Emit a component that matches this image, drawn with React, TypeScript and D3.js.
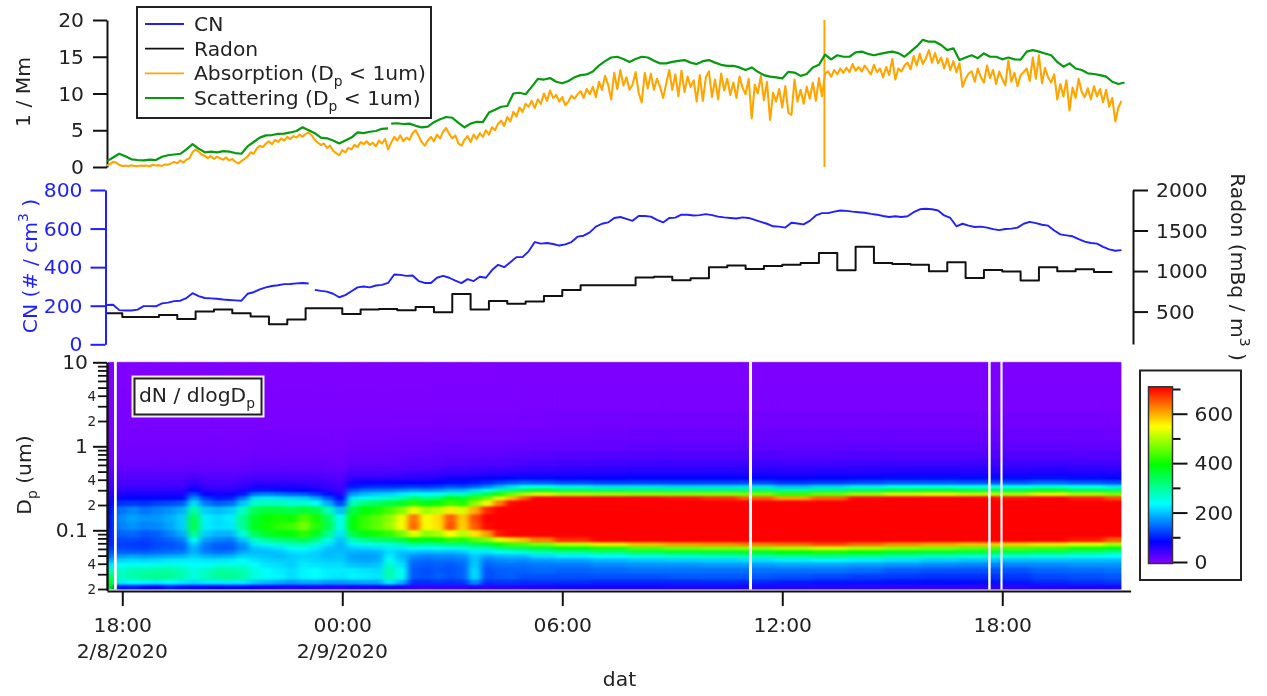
import React, { useEffect, useRef } from "react";
import * as d3 from "d3";

// time base: every series is sampled in minutes after this moment
const START = new Date(2020, 1, 8, 17, 35);
const END = new Date(2020, 1, 9, 21, 30);
const timeTicks = [new Date(2020, 1, 8, 18), new Date(2020, 1, 9, 0), new Date(2020, 1, 9, 6), new Date(2020, 1, 9, 12), new Date(2020, 1, 9, 18)];
const dateLabels = ["2/8/2020", "2/9/2020", "", "", ""];

// 5 minute samples from 17:35
const absorption = [
  0.2, 0.4, 0.7, 0.6, 0.3, 0.1, 0.2, 0.1, 0.25, 0.15, 0.1, 0.2, 0.15, 0.2, 0.1, 0.3, 0.2, 0.25, 0.15, 0.35, 0.3,
  0.5, 0.7, 0.5, 0.9, 0.6, 1.0, 1.2, 2.0, 2.4, 2.1, 1.7, 1.5,
  1.2, 1.5, 1.1, 1.4, 1.2, 1.0, 1.3, 0.9, 1.1, 0.7, 0.5, 0.8,
  1.1, 1.4, 2.0, 1.8, 2.5, 2.9, 2.7, 3.2, 3.5, 3.1, 3.7, 3.4,
  3.9, 3.6, 4.1, 3.8, 4.2, 4.0, 4.4, 4.1, 4.5, 4.7, 4.3, 3.7,
  3.3, 3.0, 3.2, 2.6, 2.9, 2.2, 1.9, 1.6, 2.3, 2.0, 2.6, 2.4,
  3.0, 2.7, 3.4, 3.1, 3.5, 3.0, 3.3, 2.8, 3.6, 3.2, 3.8, 2.4,
  3.3, 4.1, 3.6, 4.3, 3.5, 4.0, 3.7, 4.6, 5.0, 4.2, 3.4, 2.9,
  3.6, 4.1, 3.5, 4.4, 3.9, 4.8, 5.3, 4.5, 3.9, 4.3, 3.2, 2.9,
  3.7, 4.2, 3.4, 4.4, 3.8, 4.6, 4.1, 5.0, 4.4, 5.4, 5.0, 5.9,
  6.3, 5.6, 6.8, 6.2, 7.5, 6.9, 8.1, 7.5, 8.6, 8.2, 9.0, 8.0,
  9.2, 8.6, 10.0, 9.0, 10.4, 9.4, 9.8, 8.9, 9.5, 8.4, 8.9, 9.7,
  9.3, 9.9, 10.3, 9.4, 10.6, 9.9, 10.9, 9.5, 11.6, 10.5, 12.4, 11.2,
  9.2, 12.8, 10.6, 13.2, 11.1, 12.2, 10.5,
  11.2, 12.9, 10.1, 8.8, 12.8, 10.7, 12.7, 10.5, 12.0, 10.9, 9.4, 11.3,
  13.2, 10.5, 12.6, 9.6, 13.1, 10.2, 12.3, 10.9, 11.8, 8.9, 12.5, 9.0,
  12.2, 13.0, 9.5, 11.9, 9.2, 12.7, 10.4, 12.0, 9.8, 11.5, 9.4, 12.3,
  10.8, 9.9, 12.0, 6.6, 11.2, 10.0, 12.4, 9.1, 11.6, 6.4, 10.1, 8.9,
  10.6, 8.1, 11.0, 7.4, 7.1, 11.9, 8.9, 10.5, 8.6, 10.9, 9.3, 11.5,
  9.0, 12.1, 9.6,
  12.7, 13.0, 12.3, 13.2, 12.6, 13.4, 12.8, 13.5, 12.9, 14.0, 13.1, 13.6,
  13.0, 13.8, 13.2, 12.6, 13.9, 12.9, 13.4, 12.2, 13.6, 12.5, 14.7, 11.9,
  13.4, 13.0, 13.8, 14.2, 13.3, 15.1, 13.8, 15.4, 14.0, 14.8, 15.9, 14.2,
  15.5, 14.1, 14.9, 13.4, 14.8, 13.2, 14.4, 12.9, 14.1, 10.9, 12.0, 12.7,
  13.0, 11.6, 13.4, 12.2, 11.5, 13.8, 12.1, 13.2, 11.3, 13.0, 12.0, 11.1,
  14.5, 11.6, 12.8, 11.0, 12.5, 12.9, 13.4, 11.7, 14.9, 12.0, 15.2, 11.4,
  13.5, 12.2, 11.5, 12.6, 9.2, 11.3, 9.6, 11.8, 7.7, 10.8, 9.4, 12.0,
  10.2, 9.5, 10.7, 9.2, 11.0, 9.6, 10.6, 8.8, 10.5, 8.2, 9.4, 6.2, 8.1, 9.0,
];
const absorptionSpikeMinute = 1174;
const absorptionSpikeRange = [0, 20];

// 10 minute samples, one short dropout at about 01:18
const scatteringA = [
  0.8, 1.3, 1.8, 1.45, 1.05, 0.95, 0.9, 1.0, 0.95, 1.4, 1.6, 1.7, 1.8, 2.4, 3.1, 2.5, 2.0, 2.1, 2.0, 2.15, 2.1, 1.9, 1.8,
  2.8, 3.4, 4.0, 4.3, 4.35, 4.5, 4.55, 4.7, 4.9, 5.4, 5.0, 4.6, 4.0, 3.9, 3.6, 3.2, 3.6, 4.0, 4.7, 4.6, 4.8, 4.9, 5.2, 5.25,
];
const scatteringB = [
  5.9, 5.95, 5.85, 5.9, 5.6, 5.4, 5.5, 6.1, 6.5, 6.8, 6.7, 6.0, 5.4, 5.9, 6.15, 6.1, 7.4, 7.8, 8.2, 8.3, 10.0, 10.1, 9.9,
  10.9, 12.0, 11.9, 12.1, 11.6, 11.4, 11.7, 12.2, 12.5, 12.6, 13.0, 13.8, 14.4, 14.9, 15.0, 14.7, 14.3, 14.7,
  15.0, 14.9, 14.45, 14.1, 14.1, 14.3, 14.45, 14.55, 14.2, 14.0, 14.4, 14.55, 14.2, 13.9, 13.75, 13.75, 13.55, 13.2, 13.55,
  12.95, 12.5, 12.3, 12.2, 12.05, 12.95, 12.85, 12.4, 12.65, 13.55, 13.9, 15.3, 14.65, 15.2, 15.0, 15.0, 15.6, 15.7, 15.4,
  15.2, 15.4, 15.55, 15.7, 15.5, 15.0, 15.7, 16.4, 17.3, 17.05, 17.05, 16.6, 15.9, 16.15, 14.55, 14.9, 15.2, 14.8, 15.45,
  15.0, 15.0, 14.65, 14.9, 14.65, 14.6, 15.7, 15.9, 15.7, 15.45, 15.2, 14.3, 13.65, 14.1, 13.4, 13.2, 12.75, 12.65, 12.5,
  12.3, 11.6, 11.3, 11.5,
];
const scatteringBStart = 465;

const cnA = [
  204, 205, 177, 175, 175, 180, 198, 198, 197, 212, 216, 224, 226, 240, 265, 250, 240, 238, 236, 232, 230, 228, 226,
  262, 270, 285, 295, 302, 306, 312, 313, 316, 318, 315,
];
const cnB = [
  282, 277, 273, 262, 244, 255, 275, 295, 300, 295, 305, 308, 318, 362, 360, 355, 357, 328, 318, 318, 345, 355, 345, 330,
  317, 338, 328, 350, 345, 385, 412, 400, 425, 452, 452, 482, 530, 522, 525, 520, 512, 518, 530, 558, 563, 580, 610, 625,
  632, 655, 660, 650, 640, 665,
  665, 662, 645, 632, 655, 657, 672, 672, 668, 670, 675, 670, 662, 658, 655, 652, 658, 655, 645, 635, 625, 612, 610, 605,
  630, 626, 622, 640, 668, 680, 680, 688, 694, 692, 688, 685, 682, 676, 672, 665, 660, 664, 660, 664, 685, 700, 703, 700,
  694, 668, 655, 612, 625, 615, 608, 610, 605, 597, 592, 598, 600, 605, 625, 635, 628, 620, 615, 590, 570, 565, 560, 545,
  532, 525, 522, 505, 492, 485, 488,
];
const cnBStart = 340;

// half hourly radon, first value is held from the start of the record to 18:00
const radon = [
  479, 434, 434, 459, 409, 500, 525, 479, 438, 344, 401, 541, 541, 471, 525, 533, 516, 557, 492, 718, 525, 631, 598, 623,
  693, 767, 825, 825, 825, 919, 931, 886, 911, 1046, 1067, 1026, 1063, 1079, 1100, 1223, 1009, 1301, 1100, 1088, 1079,
  997, 1108, 915, 1014, 994, 882, 1046, 997, 1022, 989,
];

// size distribution: column start minutes, diameters (um) from the top, one column of dN/dlogDp per row
const sizeMinutes = [
  0, 12, 32, 52, 72, 92, 112, 132, 152, 172, 192, 212, 232, 252, 272, 292, 312, 332, 352, 372, 392, 412, 432, 452, 472, 492,
  512, 532, 552, 572, 592, 612, 632, 652, 672, 692, 732, 792, 852, 912, 972, 1032, 1092, 1152, 1212, 1272, 1332, 1392, 1452,
  1512, 1572, 1632,
];
const sizeEndMinute = 1660;
const dpBins = [8.0, 3.5, 2.0, 1.35, 1.0, 0.78, 0.63, 0.53, 0.46, 0.42, 0.37, 0.33, 0.3, 0.27, 0.24, 0.215, 0.173, 0.139, 0.112, 0.09, 0.076, 0.068, 0.061, 0.055, 0.049, 0.044, 0.039, 0.033, 0.028, 0.024, 0.021];
const dpTop = 10;
const dpBottom = 0.0193;
const sizeDist = [
  [0, 1, 3, 5, 8, 10, 12, 18, 24, 29, 34, 40, 45, 52, 62, 75, 85, 90, 90, 95, 100, 105, 115, 130, 150, 180, 220, 280, 340, 380, 380],
  [0, 1, 3, 5, 8, 10, 12, 18, 24, 29, 34, 42, 52, 65, 85, 110, 150, 165, 160, 140, 125, 120, 125, 140, 175, 210, 235, 270, 270, 225, 90],
  [0, 1, 3, 5, 8, 10, 12, 18, 24, 29, 34, 42, 52, 65, 85, 115, 165, 180, 170, 145, 125, 118, 122, 140, 180, 215, 245, 285, 290, 235, 100],
  [0, 1, 3, 5, 8, 10, 12, 18, 24, 29, 34, 42, 52, 65, 85, 110, 150, 170, 160, 135, 120, 115, 120, 138, 175, 210, 245, 290, 300, 230, 85],
  [0, 1, 3, 5, 8, 10, 12, 18, 24, 29, 34, 42, 52, 65, 85, 120, 160, 172, 165, 140, 130, 125, 130, 145, 180, 215, 250, 295, 305, 225, 80],
  [0, 1, 3, 5, 8, 10, 12, 18, 24, 29, 34, 42, 52, 65, 85, 125, 170, 185, 180, 160, 140, 130, 135, 150, 185, 220, 255, 295, 300, 235, 100],
  [0, 1, 3, 5, 8, 10, 12, 18, 24, 29, 34, 42, 52, 65, 85, 135, 185, 205, 205, 185, 155, 140, 140, 155, 190, 225, 250, 280, 285, 225, 90],
  [0, 1, 3, 5, 8, 10, 14, 20, 28, 36, 48, 62, 85, 125, 170, 215, 290, 340, 345, 310, 245, 205, 190, 190, 205, 225, 240, 255, 255, 215, 85],
  [0, 1, 3, 5, 8, 10, 12, 18, 24, 30, 36, 46, 58, 80, 115, 155, 205, 225, 225, 205, 175, 155, 150, 160, 190, 220, 240, 270, 280, 225, 85],
  [0, 1, 3, 5, 8, 10, 12, 18, 24, 29, 34, 42, 54, 70, 95, 135, 195, 215, 215, 190, 160, 140, 135, 150, 185, 220, 255, 295, 300, 225, 80],
  [0, 1, 3, 5, 8, 10, 12, 18, 24, 29, 34, 42, 54, 72, 100, 145, 205, 225, 220, 190, 155, 140, 135, 155, 190, 225, 255, 295, 305, 225, 85],
  [0, 1, 3, 5, 8, 10, 13, 19, 26, 32, 40, 50, 64, 95, 150, 200, 270, 305, 300, 260, 200, 170, 165, 185, 210, 235, 255, 285, 290, 225, 85],
  [0, 1, 3, 6, 9, 12, 16, 22, 30, 38, 50, 65, 95, 150, 220, 270, 340, 370, 375, 340, 275, 225, 200, 195, 205, 220, 235, 255, 255, 205, 75],
  [0, 1, 3, 6, 9, 12, 16, 22, 30, 38, 50, 65, 95, 160, 225, 280, 355, 395, 400, 370, 300, 245, 210, 195, 200, 210, 220, 235, 240, 195, 70],
  [0, 1, 3, 6, 9, 12, 16, 22, 30, 38, 50, 65, 90, 150, 220, 275, 355, 405, 420, 385, 320, 265, 220, 200, 195, 205, 215, 225, 230, 185, 65],
  [0, 1, 3, 6, 9, 12, 16, 22, 30, 38, 48, 62, 85, 140, 215, 265, 345, 400, 430, 395, 330, 280, 235, 215, 205, 205, 205, 215, 215, 175, 60],
  [0, 1, 3, 6, 9, 12, 16, 22, 30, 38, 48, 60, 82, 135, 210, 265, 360, 440, 465, 420, 345, 285, 240, 220, 210, 215, 225, 230, 230, 185, 65],
  [0, 1, 3, 6, 9, 12, 16, 22, 28, 36, 44, 55, 72, 115, 185, 240, 345, 405, 415, 375, 310, 260, 225, 210, 205, 210, 220, 235, 235, 185, 60],
  [0, 1, 3, 5, 8, 10, 14, 20, 26, 32, 40, 48, 60, 90, 135, 185, 280, 335, 345, 305, 255, 220, 200, 195, 195, 205, 215, 225, 225, 175, 60],
  [0, 1, 3, 5, 8, 10, 12, 18, 24, 28, 32, 38, 46, 60, 85, 120, 195, 240, 245, 220, 200, 190, 190, 195, 200, 205, 215, 225, 220, 175, 55],
  [0, 1, 3, 7, 11, 15, 20, 28, 38, 50, 70, 95, 130, 175, 225, 280, 350, 385, 390, 350, 280, 230, 205, 190, 180, 185, 200, 225, 230, 180, 65],
  [0, 1, 3, 7, 11, 15, 20, 28, 38, 52, 76, 105, 150, 195, 245, 320, 390, 425, 430, 385, 310, 250, 210, 185, 175, 180, 195, 220, 225, 185, 60],
  [0, 1, 3, 7, 11, 15, 20, 28, 38, 52, 76, 108, 155, 205, 260, 335, 405, 445, 450, 405, 325, 260, 215, 190, 180, 185, 200, 215, 220, 185, 65],
  [0, 1, 3, 7, 11, 15, 20, 28, 38, 52, 76, 108, 155, 210, 270, 350, 435, 480, 485, 425, 335, 265, 225, 215, 225, 245, 265, 285, 285, 225, 70],
  [0, 1, 4, 8, 12, 16, 22, 30, 40, 54, 78, 110, 165, 225, 290, 370, 470, 540, 545, 465, 355, 280, 225, 200, 195, 205, 220, 240, 240, 190, 60],
  [0, 1, 4, 8, 12, 18, 24, 32, 44, 58, 80, 115, 175, 250, 330, 410, 540, 635, 645, 535, 395, 305, 240, 195, 170, 150, 140, 135, 135, 110, 50],
  [0, 1, 4, 8, 12, 18, 24, 32, 44, 58, 80, 112, 170, 240, 310, 380, 490, 545, 545, 480, 385, 300, 235, 190, 160, 145, 135, 130, 130, 110, 45],
  [0, 2, 5, 9, 14, 20, 26, 34, 46, 60, 82, 118, 175, 250, 325, 395, 510, 570, 565, 495, 395, 310, 240, 195, 165, 150, 140, 135, 140, 115, 50],
  [0, 2, 5, 9, 14, 20, 28, 38, 54, 72, 90, 130, 190, 270, 385, 430, 560, 650, 660, 550, 420, 320, 240, 190, 165, 150, 135, 130, 130, 110, 48],
  [0, 2, 5, 9, 14, 20, 28, 38, 52, 68, 88, 125, 190, 270, 365, 410, 525, 580, 575, 505, 410, 320, 250, 200, 170, 155, 145, 140, 140, 115, 50],
  [0, 2, 5, 9, 15, 22, 30, 40, 56, 74, 95, 140, 215, 310, 420, 480, 600, 660, 650, 565, 445, 345, 270, 225, 205, 200, 205, 215, 215, 170, 55],
  [0, 2, 5, 9, 15, 22, 30, 42, 58, 78, 105, 160, 240, 350, 460, 540, 680, 720, 700, 610, 470, 360, 280, 220, 180, 155, 140, 130, 130, 110, 50],
  [1, 2, 5, 9, 15, 22, 30, 42, 60, 82, 118, 190, 285, 410, 530, 630, 750, 800, 780, 690, 530, 400, 310, 240, 190, 165, 150, 140, 135, 115, 55],
  [1, 2, 5, 10, 16, 24, 32, 44, 62, 85, 130, 215, 320, 460, 590, 700, 810, 850, 820, 730, 570, 430, 330, 250, 195, 170, 150, 140, 140, 115, 55],
  [1, 3, 6, 10, 16, 24, 34, 46, 64, 88, 140, 240, 350, 500, 650, 760, 860, 880, 850, 750, 590, 440, 340, 255, 195, 165, 150, 140, 130, 110, 55],
  [1, 3, 6, 11, 17, 26, 36, 48, 64, 86, 135, 245, 370, 530, 710, 820, 880, 900, 870, 790, 630, 470, 360, 280, 215, 175, 155, 145, 130, 110, 60],
  [1, 3, 7, 12, 18, 27, 38, 50, 64, 82, 125, 225, 345, 500, 710, 830, 900, 910, 880, 820, 680, 510, 390, 295, 225, 180, 155, 140, 130, 110, 65],
  [1, 3, 7, 13, 19, 28, 40, 52, 66, 82, 118, 215, 335, 490, 730, 860, 910, 920, 900, 850, 730, 560, 410, 315, 240, 190, 165, 145, 130, 105, 65],
  [1, 3, 8, 14, 21, 30, 42, 54, 68, 84, 120, 215, 330, 480, 710, 870, 920, 930, 910, 865, 760, 590, 440, 340, 255, 200, 170, 150, 130, 105, 65],
  [1, 3, 8, 14, 21, 30, 42, 54, 68, 84, 118, 210, 325, 475, 695, 860, 910, 925, 915, 870, 770, 610, 460, 355, 270, 205, 170, 150, 135, 105, 62],
  [1, 3, 8, 14, 21, 30, 42, 54, 68, 84, 120, 210, 325, 475, 680, 850, 905, 920, 915, 870, 775, 620, 470, 360, 275, 210, 175, 150, 135, 108, 62],
  [1, 3, 8, 14, 21, 30, 42, 54, 68, 84, 122, 215, 330, 465, 650, 820, 900, 920, 915, 875, 780, 630, 480, 370, 285, 215, 175, 150, 135, 105, 60],
  [1, 3, 8, 14, 20, 28, 40, 52, 66, 80, 112, 195, 300, 425, 610, 790, 880, 910, 910, 880, 790, 640, 500, 390, 300, 225, 180, 150, 130, 100, 58],
  [1, 3, 8, 14, 20, 28, 40, 54, 68, 84, 118, 210, 320, 455, 650, 810, 890, 915, 915, 885, 805, 660, 520, 405, 310, 230, 180, 150, 125, 95, 55],
  [1, 3, 8, 14, 21, 30, 42, 54, 68, 86, 125, 225, 340, 490, 700, 850, 900, 920, 915, 880, 790, 640, 500, 390, 300, 225, 175, 145, 120, 95, 52],
  [1, 3, 8, 14, 21, 30, 42, 56, 70, 90, 135, 240, 365, 520, 730, 870, 910, 925, 915, 875, 775, 620, 480, 370, 285, 215, 170, 135, 115, 92, 50],
  [1, 3, 8, 14, 21, 30, 42, 56, 70, 90, 135, 245, 370, 530, 740, 880, 915, 925, 915, 870, 765, 605, 470, 360, 275, 205, 165, 130, 110, 90, 50],
  [1, 3, 8, 14, 21, 30, 42, 54, 68, 88, 130, 235, 355, 510, 720, 870, 910, 920, 905, 860, 750, 590, 450, 350, 265, 200, 160, 130, 110, 90, 48],
  [1, 3, 8, 14, 21, 30, 42, 54, 68, 88, 130, 235, 350, 495, 695, 850, 900, 910, 895, 845, 735, 580, 440, 345, 260, 195, 160, 130, 115, 95, 52],
  [1, 3, 8, 14, 21, 30, 42, 56, 70, 92, 142, 255, 375, 530, 720, 860, 900, 905, 890, 835, 720, 565, 430, 335, 255, 195, 165, 140, 125, 105, 58],
  [1, 3, 8, 14, 20, 28, 40, 54, 68, 88, 132, 235, 350, 495, 690, 840, 890, 900, 875, 815, 690, 530, 405, 315, 245, 195, 170, 145, 130, 110, 62],
  [1, 3, 7, 13, 19, 27, 38, 52, 66, 85, 125, 222, 332, 470, 660, 820, 880, 890, 860, 790, 650, 495, 380, 300, 235, 195, 170, 150, 135, 115, 62],
];
// minutes with no size data, drawn as white strips
const sizeGaps = [[11.5, 16], [1050.5, 1055.5], [1442, 1446], [1462, 1465.5]];

const colorStops = [0, 82, 235, 393, 549, 705];
const colorValues = ["#7f00ff", "#0000ff", "#00ffff", "#00ff00", "#ffff00", "#ff0000"];

const legendLabels: [string, string | null, string][] = [
  ["CN", null, ""],
  ["Radon", null, ""],
  ["Absorption (D", "p", " < 1um)"],
  ["Scattering (D", "p", " < 1um)"],
];
const CN_COLOR = "#1f1fff";
const RADON_COLOR = "#111111";
const ABS_COLOR = "#ffa500";
const SCAT_COLOR = "#069a0e";
const legendColors = [CN_COLOR, RADON_COLOR, ABS_COLOR, SCAT_COLOR];

const FONT = "'DejaVu Sans', sans-serif";
const FS = 20.3;
const TEXT = "#222";

// text with sub or superscript pieces
function richText(t: any, parts: [string, "sub" | "sup" | null][], size = FS) {
  let shift = 0;
  parts.forEach(([s, k]) => {
    const target = k === "sub" ? 6 : k === "sup" ? -9 : 0;
    t.append("tspan").attr("dy", target - shift).attr("font-size", k ? size * 0.68 : size).text(s);
    shift = target;
  });
  return t;
}

function styleAxis(g: any, color = "#111", width = 2, size = FS) {
  g.attr("font-family", FONT).attr("font-size", size);
  g.selectAll("path,line").attr("stroke", color).attr("stroke-width", width);
  g.selectAll("text").attr("fill", color === "#111" ? TEXT : color);
  return g;
}

export default function App() {
  const svgRef = useRef<SVGSVGElement>(null);

  useEffect(() => {
    const svg = d3.select(svgRef.current);
    svg.selectAll("*").remove();
    const defs = svg.append("defs");

    const x = d3.scaleTime().domain([START, END]).range([107, 1130.6]);
    const mx = (m: number) => x(new Date(START.getTime() + m * 60000));

    // top panel
    const yTop = d3.scaleLinear().domain([0, 20]).range([167, 20]);
    styleAxis(svg.append("g").attr("transform", "translate(107,0)")
      .call(d3.axisLeft(yTop).tickValues([0, 5, 10, 15, 20]).tickSize(14).tickSizeOuter(0).tickPadding(9)));
    richText(svg.append("text").attr("transform", "translate(30,92) rotate(-90)").attr("text-anchor", "middle")
      .attr("font-family", FONT).attr("fill", TEXT), [["1 / Mm", null]]);

    const lineTop = (start: number, step: number) =>
      d3.line<number>().x((_, i) => mx(start + i * step)).y((d) => yTop(d));
    const drawPath = (data: number[], gen: any, color: string, width = 1.9) =>
      svg.append("path").datum(data).attr("d", gen).attr("fill", "none").attr("stroke", color)
        .attr("stroke-width", width).attr("stroke-linejoin", "round");

    drawPath(absorption, lineTop(0, 5), ABS_COLOR, 2.1);
    drawPath(absorptionSpikeRange, d3.line<number>().x(() => mx(absorptionSpikeMinute)).y((d) => yTop(d)), ABS_COLOR, 2);
    drawPath(scatteringA, lineTop(0, 10), SCAT_COLOR, 2.2);
    drawPath(scatteringB, lineTop(scatteringBStart, 10), SCAT_COLOR, 2.2);

    // legend
    const legend = svg.append("g").attr("transform", "translate(137,7)");
    legend.append("rect").attr("width", 294).attr("height", 111).attr("fill", "white").attr("stroke", "#222").attr("stroke-width", 2);
    const rowY = d3.scalePoint<number>().domain(d3.range(legendLabels.length)).range([17, 91]);
    legendLabels.forEach((row, i) => {
      legend.append("line").attr("x1", 8).attr("x2", 47).attr("y1", rowY(i)!).attr("y2", rowY(i)!)
        .attr("stroke", legendColors[i]).attr("stroke-width", 1.8);
      const parts: [string, "sub" | null][] = row[1] ? [[row[0], null], [row[1], "sub"], [row[2], null]] : [[row[0], null]];
      richText(legend.append("text").attr("x", 57).attr("y", rowY(i)! + 7).attr("font-family", FONT).attr("fill", TEXT), parts);
    });

    // middle panel
    const yCn = d3.scaleLinear().domain([0, 800]).range([344.3, 190]);
    const yRadon = d3.scaleLinear().domain([100, 2000]).range([344, 190]);
    styleAxis(svg.append("g").attr("transform", "translate(105.5,0)")
      .call(d3.axisLeft(yCn).tickValues([0, 200, 400, 600, 800]).tickSize(15).tickSizeOuter(0).tickPadding(8)), CN_COLOR);
    styleAxis(svg.append("g").attr("transform", "translate(1133,0)")
      .call(d3.axisRight(yRadon).tickValues([500, 1000, 1500, 2000]).tickSize(15).tickSizeOuter(0).tickPadding(8).tickFormat(d3.format("d") as any)));
    richText(svg.append("text").attr("transform", "translate(37,266) rotate(-90)").attr("text-anchor", "middle")
      .attr("font-family", FONT).attr("fill", CN_COLOR), [["CN (# / cm", null], ["3", "sup"], [" )", null]]);
    richText(svg.append("text").attr("transform", "translate(1231,267) rotate(90)").attr("text-anchor", "middle")
      .attr("font-family", FONT).attr("fill", TEXT), [["Radon (mBq / m", null], ["3", "sup"], [" )", null]]);

    const lineCn = (start: number) => d3.line<number>().x((_, i) => mx(start + i * 10)).y((d) => yCn(d));
    const radonTimes = [0, ...radon.map((_, i) => 25 + i * 30)];
    const radonLine = d3.line<number>().curve(d3.curveStepAfter).x((_, i) => mx(radonTimes[i])).y((d) => yRadon(d));
    drawPath([...radon, radon[radon.length - 1]], radonLine, RADON_COLOR, 2);
    drawPath(cnA, lineCn(0), CN_COLOR);
    drawPath(cnB, lineCn(cnBStart), CN_COLOR);

    // size distribution image
    const yDp = d3.scaleLog().domain([dpBottom, dpTop]).range([590.3, 362.3]);
    const color = d3.scaleLinear<string>().domain(colorStops).range(colorValues).clamp(true);
    const rowEdges = [dpTop, ...dpBins.slice(1).map((d, i) => Math.sqrt(d * dpBins[i])), dpBottom];
    const colEdges = [...sizeMinutes, sizeEndMinute];

    defs.append("clipPath").attr("id", "imgClip").append("rect")
      .attr("x", mx(0) + 1).attr("width", mx(sizeEndMinute) - mx(0) - 1).attr("y", 361.5).attr("height", 228);
    const smooth = defs.append("filter").attr("id", "smooth").attr("filterUnits", "userSpaceOnUse")
      .attr("x", 90).attr("y", 340).attr("width", 1050).attr("height", 270).attr("color-interpolation-filters", "sRGB");
    smooth.append("feGaussianBlur").attr("in", "SourceGraphic").attr("stdDeviation", "3.2 1").attr("result", "b");
    const merge = smooth.append("feMerge");
    merge.append("feMergeNode").attr("in", "SourceGraphic");
    merge.append("feMergeNode").attr("in", "b");

    const image = svg.append("g").attr("clip-path", "url(#imgClip)").append("g").attr("filter", "url(#smooth)");
    sizeDist.forEach((col, c) => {
      image.selectAll(null).data(col).join("rect")
        .attr("x", mx(colEdges[c]))
        .attr("width", mx(colEdges[c + 1]) - mx(colEdges[c]) + 0.5)
        .attr("y", (_, r) => yDp(rowEdges[r]))
        .attr("height", (_, r) => yDp(rowEdges[r + 1]) - yDp(rowEdges[r]) + 0.5)
        .attr("fill", (d) => color(d));
    });
    svg.append("g").selectAll("rect").data(sizeGaps).join("rect")
      .attr("x", (d) => mx(d[0])).attr("width", (d) => mx(d[1]) - mx(d[0]))
      .attr("y", 361.5).attr("height", 228).attr("fill", "white");

    // dN / dlogDp tag
    svg.append("rect").attr("x", 133).attr("y", 377).attr("width", 130).attr("height", 39)
      .attr("fill", "white").attr("stroke", "#eee").attr("stroke-width", 3);
    svg.append("rect").attr("x", 134.5).attr("y", 378.5).attr("width", 127).attr("height", 36)
      .attr("fill", "white").attr("stroke", "#222").attr("stroke-width", 2);
    richText(svg.append("text").attr("x", 139).attr("y", 402).attr("font-family", FONT).attr("fill", TEXT),
      [["dN / dlogD", null], ["p", "sub"]]);

    // log axis: decades, then 2..9 minors with only 2 and 4 labelled
    const decades = [0.01, 0.1, 1];
    const minors = decades.flatMap((d) => d3.range(2, 10).map((m) => +(d * m).toFixed(3)))
      .filter((v) => v >= 0.02);
    const labelled = new Set([2, 4]);
    const minorAxis = d3.axisLeft(yDp).tickValues(minors).tickSize(9).tickSizeOuter(0).tickPadding(2)
      .tickFormat((v: any) => {
        const lead = Math.round(v / Math.pow(10, Math.floor(Math.log10(v) + 1e-9)));
        return labelled.has(lead) ? String(lead) : "";
      });
    styleAxis(svg.append("g").attr("transform", "translate(107,0)").call(minorAxis as any), "#111", 1.8, 13.5);
    styleAxis(svg.append("g").attr("transform", "translate(107,0)")
      .call(d3.axisLeft(yDp).tickValues([0.1, 1, 10]).tickSize(14).tickSizeOuter(0).tickPadding(5).tickFormat((v: any) => String(v)) as any));
    richText(svg.append("text").attr("transform", "translate(31,475) rotate(-90)").attr("text-anchor", "middle")
      .attr("font-family", FONT).attr("fill", TEXT), [["D", null], ["p", "sub"], [" (um)", null]]);

    // time axis
    const xAxis = svg.append("g").attr("transform", "translate(0,591)")
      .call(d3.axisBottom(x).tickValues(timeTicks).tickSize(15).tickSizeOuter(0).tickPadding(12).tickFormat(d3.timeFormat("%H:%M") as any));
    styleAxis(xAxis);
    svg.append("g").selectAll("text").data(timeTicks).join("text")
      .attr("x", (d) => x(d)).attr("y", 658).attr("text-anchor", "middle")
      .attr("font-family", FONT).attr("font-size", FS).attr("fill", TEXT)
      .text((_, i) => dateLabels[i]);
    svg.append("text").attr("x", 619.5).attr("y", 686).attr("text-anchor", "middle")
      .attr("font-family", FONT).attr("font-size", FS).attr("fill", TEXT).text("dat");

    // colour bar
    const scaleBar = d3.scaleLinear().domain([0, 700]).range([562, 389]);
    svg.append("rect").attr("x", 1140).attr("y", 370.5).attr("width", 101).attr("height", 209.5)
      .attr("fill", "white").attr("stroke", "#222").attr("stroke-width", 2);
    const grad = defs.append("linearGradient").attr("id", "barFill").attr("x1", 0).attr("x2", 0).attr("y1", 1).attr("y2", 0);
    const barLow = -6;
    const barHigh = 709;
    colorStops.forEach((v, i) => {
      grad.append("stop").attr("offset", Math.min(1, (v - barLow) / (barHigh - barLow))).attr("stop-color", colorValues[i]);
    });
    styleAxis(svg.append("g").attr("transform", "translate(1172.5,0)")
      .call(d3.axisRight(scaleBar).tickValues([100, 300, 500, 700]).tickSize(8).tickSizeOuter(0).tickFormat(() => "") as any)
      .call((g: any) => g.select(".domain").remove()));
    styleAxis(svg.append("g").attr("transform", "translate(1172.5,0)")
      .call(d3.axisRight(scaleBar).tickValues([0, 200, 400, 600]).tickSize(15).tickSizeOuter(0).tickPadding(7) as any)
      .call((g: any) => g.select(".domain").remove()));
    svg.append("rect").attr("x", 1148.5).attr("width", 24).attr("y", scaleBar(barHigh)).attr("height", scaleBar(barLow) - scaleBar(barHigh))
      .attr("fill", "url(#barFill)").attr("stroke", "#333").attr("stroke-width", 1.5);
  }, []);

  return <svg ref={svgRef} width={1267} height={696} style={{ position: "absolute", left: 0, top: 0, background: "white", filter: "blur(0.4px)" }} />;
}
